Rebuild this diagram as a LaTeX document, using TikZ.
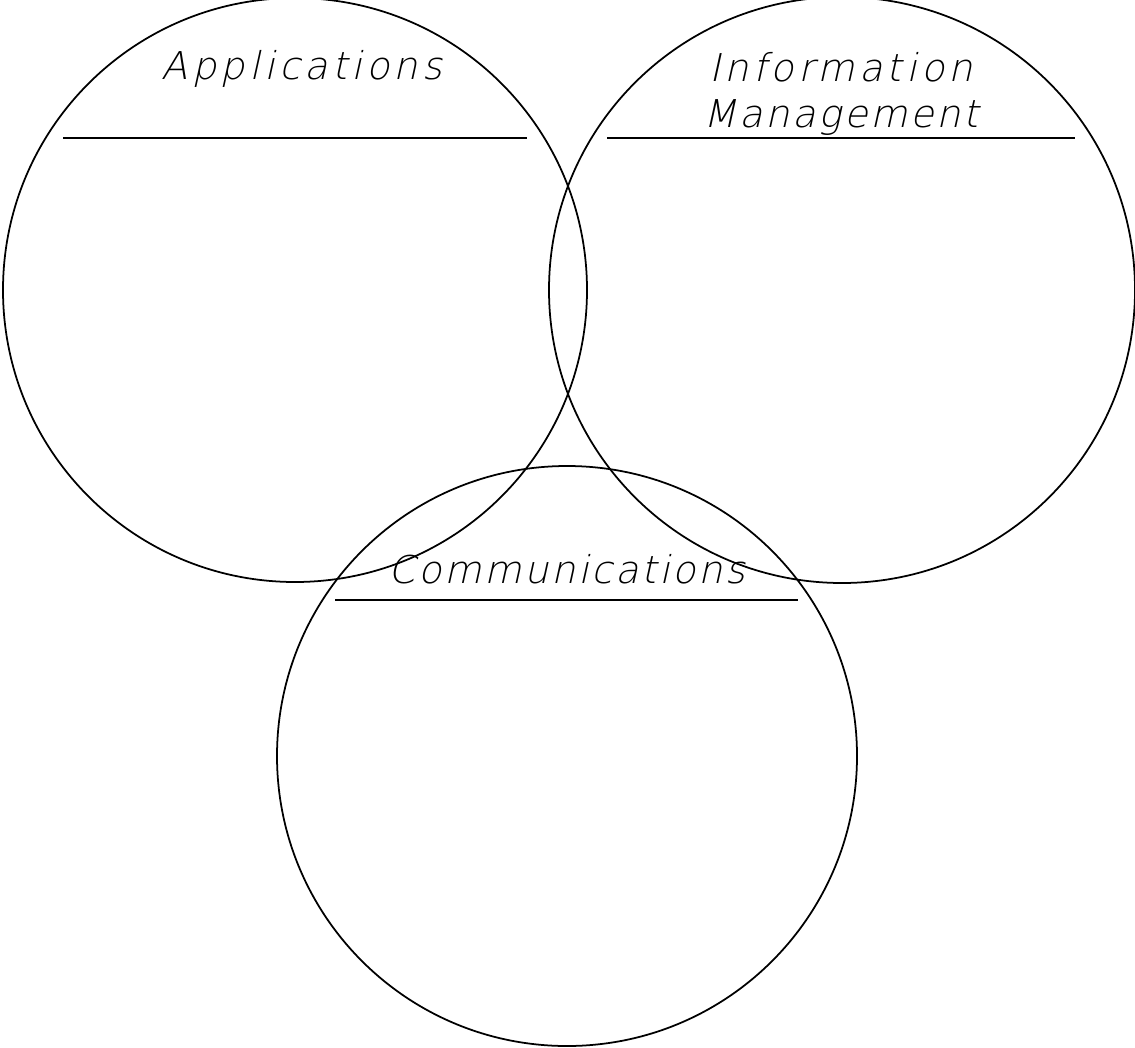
\documentclass[tikz,border=0pt]{standalone}
\usepackage{fontspec}
\newfontfamily\plotfont[FakeSlant=0.22,LetterSpace=11]{DejaVu Sans ExtraLight}
\newfontfamily\plotfontnarrow[FakeSlant=0.22,LetterSpace=7]{DejaVu Sans ExtraLight}
\usepackage{tikz}
\usetikzlibrary{positioning}

\tikzset{
  ring/.style={draw,circle,inner sep=0pt,line width=0.5pt},
  rule/.style={line width=0.55pt},
  area/.style={font=\plotfont\fontsize{10.9}{13}\selectfont,anchor=base,inner sep=0pt},
  areanarrow/.style={area,font=\plotfontnarrow\fontsize{10.9}{13}\selectfont}
}

\begin{document}
\begin{tikzpicture}
    \useasboundingbox (0,0) rectangle (11.35,10.47);
    % the three areas
    \node[ring,minimum size=5.84cm] (app) at (2.95,7.57) {};
    \node[ring,minimum size=5.86cm] (info) at (8.42,7.57) {};
    \node[ring,minimum size=5.80cm] (comm) at (5.67,2.91) {};
    % headings
    \node[area] (appt) at (3.02,9.67) {Applications};
    \node[area] (infot) at (8.41,9.65) {Information};
    \node[areanarrow,below=0.46cm of infot.base,anchor=base] (mgmt) {Management};
    \node[areanarrow] (commt) at (5.67,4.64) {Communications};
    % rules under the headings
    \coordinate (appL) at (0.63,9.09);
    \coordinate (appR) at (5.27,9.09);
    \coordinate (infoL) at (6.07,9.09);
    \coordinate (infoR) at (10.75,9.09);
    \coordinate (commL) at (3.35,4.47);
    \coordinate (commR) at (7.98,4.47);
    \draw[rule] (appL) -- (appR);
    \draw[rule] (infoL) -- (infoR);
    \draw[rule] (commL) -- (commR);
\end{tikzpicture}
\end{document}
